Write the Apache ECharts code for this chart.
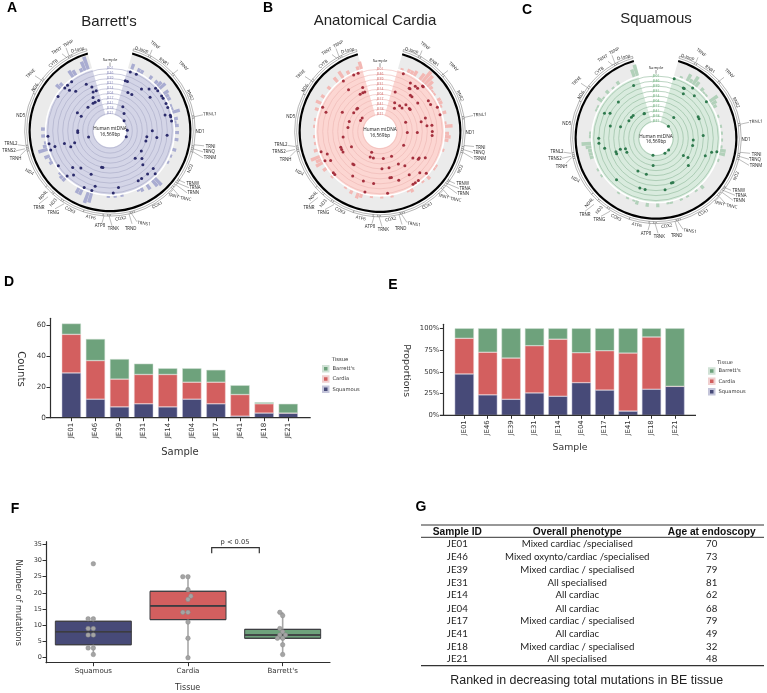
<!DOCTYPE html>
<html><head><meta charset="utf-8">
<style>html,body{margin:0;padding:0;background:#fff}#c{width:767px;height:693px}</style>
<script src="https://cdn.jsdelivr.net/npm/echarts@6/dist/echarts.min.js"></script>
</head><body><div id="c"></div>
<script>
const samples = ["JE01","JE46","JE39","JE31","JE14","JE04","JE17","JE41","JE18","JE21"];
const tissues = ["Squamous","Cardia","Barrett's"];

const countSquamous = [29,12,7,9,7,12,9,1,3,3];
const countCardia   = [25,25,18,19,21,11,14,14,6,0];
const countBarretts = [7,14,13,7,4,9,8,6,1,6];

const propSquamous = [47.5,23.5,18.4,25.7,21.9,37.5,29.0,4.8,30,33.3];
const propCardia   = [41,49,47.4,54.3,65.6,34.4,45.2,66.7,60,0];
const propBarretts = [11.5,27.5,34.2,20,12.5,28.1,25.8,28.5,10,66.7];

// box: low edge, low edge, median, high edge, high edge
const boxes = [[4,4,8,11.25,11.25],[11.75,11.75,16,20.5,20.5],[6,6,7,8.75,8.75]];
const whiskers = [[1,4,11.25,12],[0,11.75,20.5,25],[1,6,8.75,14]];
// swarm: [offset from category, mutations]
const swarmSquamous = [[0,29],[-0.055,12],[0,12],[-0.055,9],[0,9],[-0.055,7],[0,7],[-0.055,3],[0,3],[0,1]];
const swarmCardia = [[-0.055,25],[0,25],[0,21],[0.03,19],[0,18],[-0.055,14],[0,14],[0,11],[0,6],[0,0]];
const swarmBarretts = [[-0.03,14],[0,13],[-0.03,9],[0,8],[-0.03,7],[0.03,7],[-0.055,6],[0,6],[0,4],[0,1]];

// mtDNA annotation, bp
const genes = [["D-loop",1,576],["TRNF",577,647],["RNR1",648,1601],["TRNV",1602,1670],["RNR2",1671,3229],["TRNL1",3230,3304],["ND1",3307,4262],["TRNI",4263,4331],["TRNQ",4332,4400],["TRNM",4402,4469],["ND2",4470,5511],["TRNW",5512,5579],["TRNA",5587,5655],["TRNN",5657,5729],["TRNC",5761,5826],["TRNY",5827,5891],["COX1",5904,7445],["TRNS1",7446,7514],["TRND",7518,7585],["COX2",7586,8269],["TRNK",8295,8364],["ATP8",8366,8526],["ATP6",8527,9207],["COX3",9208,9990],["TRNG",9991,10058],["ND3",10059,10404],["TRNR",10405,10469],["ND4L",10470,10759],["ND4",10760,12137],["TRNH",12138,12206],["TRNS2",12207,12265],["TRNL2",12266,12336],["ND5",12337,14148],["ND6",14149,14673],["TRNE",14674,14742],["CYTB",14747,15887],["TRNT",15888,15953],["TRNP",15956,16023],["D-loop",16024,16569]];

// mutations: [clock angle in degrees, ring index]
const dotsA = [[19,0],[25,0],[17,2],[19.5,2],[37,2],[43,1],[47,0],[50,0],[25,4],[31,4],[50,2],[56,0],[58.5,0],[64,0],[68,0],[28,7],[39,8],[54.5,9],[74,1],[75.5,0],[77,0],[81,0],[90,4],[94.5,1],[88,9],[110,9],[99,5],[98,3],[106,5],[123,5],[137.5,5],[131,4],[136,3],[131,1],[133.5,0],[139,1],[146.5,1],[150.5,1],[171.5,1],[177,0],[193,5],[191,5],[203.5,3],[195,1],[197,0],[204.5,0],[225.5,2],[218,3],[219.5,1],[223.5,0],[236,0],[248,4],[251.5,5],[254.5,3],[254,1],[252,0],[258,0],[265,0],[254,8],[270,6],[267,6],[299,5],[297,6],[319,2],[303.5,0],[313.5,0],[315,1],[317,0],[322,0],[333,2],[337.5,3],[336.5,4],[341,4],[333,5],[339.5,6],[332.5,6],[328.5,6],[317,6]];
const dotsB = [[22,0],[32,1],[21,4],[34,2],[35,2],[38,1],[41,1],[43,0],[44,0],[40,3],[42.5,3],[53,3],[57.5,1],[62,1],[67,0],[74.5,0],[27,6],[32,7],[37.5,6],[43,6],[44,5],[52,5],[54,5],[76.5,4],[73.5,3],[83,3],[83,2],[90,2],[94.5,2],[91.5,5],[92,7],[70,7],[120,7],[155,7],[173,7],[194,7],[202,8],[201,7],[129,4],[124,3],[126,3],[120,2],[150.5,5],[144,4],[177,5],[166,5],[168,3],[166,3],[159,2],[146,2],[136,1],[132,0],[142,0],[145.5,0],[148,0],[173,0],[187,2],[194,0],[198.5,2],[220,4],[218,4],[211.5,2],[228.5,0],[226.5,0],[239.5,1],[251,0],[247,1],[242,0],[248,4],[245,4],[241,4],[242,6],[261.5,5],[277,6],[288,6],[293,0],[289.5,1],[297,4],[305.5,6],[316,6],[314,6],[307,8],[299.5,8],[324,0],[323,2],[335,0],[339.5,0],[338.5,3],[332,4],[339,4],[336,4]];
const dotsC = [[17,0],[28.5,1],[29.5,1],[31.5,2],[36,0],[42,1],[54,0],[63,3],[65.5,3],[40.5,7],[46,9],[86.5,3],[92.5,5],[101,5],[104,1],[102.5,0],[109.5,2],[122,6],[121,5],[130,4],[161,3],[159,3],[170,2],[192,2],[198,2],[195,5],[209,5],[186,7],[190,9],[149,9],[133,9],[223.5,1],[251,6],[244.5,6],[253,5],[251.5,4],[248.5,4],[259,2],[270,1],[265,1],[285,3],[288,5],[303,6],[310.5,6],[315,6],[335,7],[334,7],[298.5,2],[296,1],[314,2],[337,1]];

// coverage tick bars: [clock angle in degrees, count]
const barsA = [[20,3],[24,2],[27,2],[36,2],[43,2],[47,3],[50,4],[54,3],[58,2],[62,2],[66,1],[70,1],[74,4],[78,2],[82,1],[86,2],[90,2],[97,2],[105,2],[112,1],[118,1],[136,5],[140,4],[144,3],[152,2],[155,1],[170,1],[175,1],[180,1],[196,5],[200,6],[205,3],[208,3],[222,2],[226,2],[230,1],[240,2],[245,1],[248,3],[252,5],[256,2],[260,1],[265,2],[270,2],[310,3],[313,2],[325,4],[328,3],[335,2],[338,5],[341,7]];
const barsB = [[20,1],[24,2],[28,2],[32,3],[36,4],[39,7],[42,6],[45,4],[48,2],[52,1],[56,1],[60,2],[64,2],[68,1],[72,2],[82,1],[86,4],[90,2],[93,3],[97,2],[105,1],[120,1],[125,1],[132,2],[138,1],[150,2],[155,1],[168,1],[178,1],[188,1],[195,2],[200,3],[205,2],[212,1],[225,1],[235,2],[240,4],[243,3],[248,5],[252,2],[258,1],[265,1],[275,1],[280,1],[288,2],[295,3],[300,2],[310,2],[318,3],[325,4],[330,2],[340,2],[343,4]];
const barsC = [[22,1],[28,4],[31,2],[35,5],[38,3],[42,2],[46,1],[50,1],[54,5],[57,3],[60,2],[70,1],[80,1],[85,1],[90,1],[97,1],[101,3],[104,3],[110,1],[137,2],[143,1],[152,1],[158,1],[165,1],[170,1],[177,2],[188,2],[195,2],[198,1],[204,1],[215,1],[235,1],[240,1],[252,2],[255,2],[259,2],[262,3],[265,5],[270,1],[275,1],[295,1],[299,1],[303,3],[307,1],[312,2],[318,1],[325,2],[340,4],[343,6]];

const tableHead = ["Sample ID","Overall phenotype","Age at endoscopy"];
const tablePhenotype = ["Mixed cardiac /specialised","Mixed oxynto/cardiac /specialised","Mixed cardiac / specialised","All specialised","All cardiac","All cardiac","Mixed cardiac / specialised","All cardiac","Mixed cardiac / specialised","All specialised"];
const tableAge = [70,73,79,81,62,68,79,49,32,48];

/* ---------- layout & style ---------- */
const COL = {"Squamous":"#474a78","Cardia":"#d35f5f","Barrett's":"#6ea27c"};
const EDGE = {"Squamous":"#c4c5da","Cardia":"#f0cfcf","Barrett's":"#d0e1d5"};
const SANS = "DejaVu Sans", ARIAL = "Liberation Sans", SMALL = "Open Sans";
const AXC = "#2e2e2e";
const panels = [
 {c:[110,130.8],title:"Barrett's",tx:109,ty:22,fill:"#d4d5e7",ring:"#a8a9c6",bar:"#a9acd1",dot:"#2c2c6c",lab:"#6a6aaa",dots:dotsA,bars:barsA},
 {c:[380,131.5],title:"Anatomical Cardia",tx:375,ty:21,fill:"#fcd6d2",ring:"#ecb6b2",bar:"#f3b8b4",dot:"#a5303e",lab:"#c44444",dots:dotsB,bars:barsB},
 {c:[656,138.3],title:"Squamous",tx:656,ty:19,fill:"#d9ebde",ring:"#8fb89b",bar:"#b2d1ba",dot:"#2f7a4e",lab:"#3f9a50",dots:dotsC,bars:barsC}
];
// gene label placement relative to a circle's centre: name, dx, dy, rotation, leader x1,y1,x2,y2
const geneLabels = [
 ["D-loop",31.7,-81,15],["TRNF",45,-85.7,38,40,-76,42,-81],["RNR1",54,-69,35],["TRNV",73.3,-65,45,63,-57,68,-61],
 ["RNR2",80,-35.7,65],["TRNL1",100,-16.7,-3,84,-14,93,-16],["ND1",90,1.3,0],["TRNI",100.7,16,0,84,14,94,15],
 ["TRNQ",99,21,0,83,18,93,21],["TRNM",100,27,0,83,21,93,27],["ND2",80.3,37.7,-68],["TRNW",82.7,52.7,0,68,49,75,52],
 ["TRNA",85,57,0,67,52,79,57],["TRNN",83.3,62,0,66,54,77,62],["TRNC",75.7,68,10,63,58,70,66],["TRNY",63.3,65,12,63,59,60,62],
 ["COX1",47.3,74.3,-28],["TRNS1",34,92.7,8,21,82,27,91],["TRND",20.7,97.7,0,19,83,22,93],["COX2",10.7,87.7,-10],
 ["TRNK",3.3,98.3,0,-1,85,2,95],["ATP8",-10,95.3,0,-6,85,-8,92],["ATP6",-19.3,86.7,13],["COX3",-40,79.3,25],
 ["TRNG",-56.7,81.7,0,-46,73,-55,78],["ND3",-56.7,71.7,-52],["TRNR",-71,76.7,0,-62,66,-71,73],["ND4L",-66.7,64.3,-48],
 ["ND4",-80.7,41,30],["TRNH",-94.3,28.3,0,-84,19,-90,25],["TRNS2",-101,20,0,-85,18,-94,20],["TRNL2",-99,13.3,0,-85,15,-92,14],
 ["ND5",-89.3,-15,0],["ND6",-75,-43.3,-55],["TRNE",-79.3,-57.3,-45,-69,-51,-75,-55],["CYTB",-56.7,-67.3,-40],
 ["TRNT",-53.3,-80,-30,-43,-73,-48,-77],["TRNP",-41.7,-87.3,-30,-41,-75,-44,-83],["D-loop",-32.3,-81,-15]
];
const GAPBP = 16569*32/328;

const T = (x,y,text,size,o={}) => ({type:'text',x,y,rotation:-(o.rot||0)*Math.PI/180,silent:true,z:20,
  style:{text:String(text),fontSize:size,fontFamily:o.font||SANS,fontWeight:o.weight||'normal',fill:o.fill||'#222',align:o.align||'center',verticalAlign:'middle'}});
const L = (x1,y1,x2,y2,w=0.5,c='#444') => ({type:'line',silent:true,z:19,shape:{x1,y1,x2,y2},style:{stroke:c,lineWidth:w}});

const graphic = [];
[["A",12,8],["B",268,8],["C",527,10],["D",9,282],["E",393,285],["F",15,509],["G",421,507]].forEach(l=>graphic.push(T(l[1],l[2],l[0],14,{font:ARIAL,weight:'bold',fill:'#000'})));

const polar=[],angleAxis=[],radiusAxis=[],series=[];
const noLab = {label:{show:false},labelLine:{show:false},emphasis:{disabled:true},silent:true,avoidLabelOverlap:false,animation:false};
const ringPie = (p,r,z,data) => ({type:'pie',center:p.c,radius:r,startAngle:74,clockwise:true,z,data,...noLab});
const solid = (col) => [{value:328,itemStyle:{color:col}},{value:32,itemStyle:{color:'rgba(0,0,0,0)'}}];

panels.forEach(p=>{
  series.push(ringPie(p,[16.5,63.6],1,solid(p.fill)));
  series.push(ringPie(p,[65.2,79.5],1,solid('#ebebeb')));
  series.push(ringPie(p,[79.3,81.5],3,solid('#000')));
  const gd=[];
  genes.forEach((g,i)=>{
    gd.push({value:g[2]-g[1]+1,itemStyle:{color:'#fff',borderColor:'#444',borderWidth:0.4}});
    if(i<genes.length-1){const gap=genes[i+1][1]-g[2]-1; if(gap>0) gd.push({value:gap,itemStyle:{color:'rgba(0,0,0,0)'}});}
  });
  gd.push({value:GAPBP,itemStyle:{color:'rgba(0,0,0,0)'}});
  series.push(ringPie(p,[83.3,85.3],3,gd));

  const iRing=polar.length;
  polar.push({center:p.c,radius:[17.3,62.3]});
  angleAxis.push({polarIndex:iRing,type:'value',min:0,max:360,startAngle:90,show:false});
  radiusAxis.push({polarIndex:iRing,type:'value',min:0,max:9,interval:1,inverse:true,z:4,
    axisLine:{show:false},axisTick:{show:false},axisLabel:{show:false},splitLine:{show:true,lineStyle:{color:p.ring,width:0.6}}});
  series.push({type:'scatter',coordinateSystem:'polar',polarIndex:iRing,z:8,symbolSize:3,silent:true,animation:false,
    itemStyle:{color:p.dot,opacity:1},data:p.dots.map(d=>[d[1],d[0]])});
  series.push({type:'scatter',coordinateSystem:'polar',polarIndex:iRing,z:8,symbolSize:0,silent:true,animation:false,
    data:samples.map((s,i)=>({value:[i,0],name:s})),
    label:{show:true,position:'inside',formatter:o=>o.name,fontSize:3.4,fontFamily:SMALL,color:p.lab}});

  const iBar=polar.length;
  polar.push({center:p.c,radius:[65.2,78.5]});
  const binCount=120, binDeg=3, bins=new Array(binCount).fill(0), names=bins.map((_,i)=>String(i));
  p.bars.forEach(b=>{const k=Math.min(binCount-1,Math.floor(b[0]/binDeg)); bins[k]=Math.max(bins[k],b[1]);});
  angleAxis.push({polarIndex:iBar,type:'category',data:names,startAngle:90,show:false});
  radiusAxis.push({polarIndex:iBar,type:'value',min:0,max:7,show:false});
  series.push({type:'bar',coordinateSystem:'polar',polarIndex:iBar,z:4,silent:true,animation:false,barWidth:'92%',
    itemStyle:{color:p.bar},data:bins});

  const [cx,cy]=p.c;
  graphic.push(T(p.tx,p.ty,p.title,15,{font:ARIAL,fill:'#222'}));
  graphic.push(T(cx,cy-1.7,"Human mtDNA",4.7,{font:SMALL,fill:'#111'}));
  graphic.push(T(cx,cy+3.8,"16,569bp",4.7,{font:SMALL,fill:'#111'}));
  graphic.push(T(cx,cy-70.7,"Sample",4.2,{font:SMALL,fill:'#222'}));
  graphic.push(L(cx,cy-68.3,cx,cy-64.6,0.5,'#333'));
  geneLabels.forEach(g=>{
    graphic.push(T(cx+g[1],cy+g[2],g[0],4.4,{font:SMALL,fill:'#222',rot:g[3]}));
    if(g.length>4) graphic.push(L(cx+g[4],cy+g[5],cx+g[6],cy+g[7],0.4,'#555'));
  });
});

const tickStyle = {show:true,length:3.5,lineStyle:{color:AXC,width:1}};
const grid=[
 {left:59.3,top:318.3,width:241,height:99.4},
 {left:452.6,top:324.3,width:234,height:91},
 {left:46,top:541.7,width:284,height:121}
];
const catAxis=(g,fs)=>({type:'category',gridIndex:g,data:samples,axisLine:{show:false},axisTick:{...tickStyle,alignWithLabel:true},
  axisLabel:{rotate:90,margin:5,fontSize:fs,fontFamily:SANS,color:'#333',interval:0}});
const xAxis=[
 catAxis(0,7.1),catAxis(1,6.9),
 {type:'category',gridIndex:2,data:tissues,axisLine:{onZero:false,lineStyle:{color:AXC,width:1.2}},axisTick:{...tickStyle,alignWithLabel:true},
  axisLabel:{fontSize:7.1,margin:5,fontFamily:SANS,color:'#333',interval:0}},
 {type:'value',gridIndex:2,min:-0.5,max:2.5,show:false}
];
const valAxis=(g,max,min,ticks,fs,off,fmt)=>({type:'value',gridIndex:g,min,max,offset:off,splitLine:{show:false},
  axisLine:{show:true,onZero:false,lineStyle:{color:AXC,width:1.2}},axisTick:{...tickStyle,customValues:ticks},
  axisLabel:{customValues:ticks,fontSize:fs,margin:4,fontFamily:SANS,color:'#333',formatter:fmt||'{value}'}});
const yAxis=[
 valAxis(0,64.4,0,[0,20,40,60],7.3,9.3),
 valAxis(1,104.6,0,[0,25,50,75,100],6.8,9.3,'{value}%'),
 valAxis(2,35.8,-1.54,[0,5,10,15,20,25,30,35],6.5,0)
];
const stackBars=(g,stack,vals)=>tissues.map((t,i)=>({type:'bar',name:t,stack,xAxisIndex:g,yAxisIndex:g,barWidth:19.2,animation:false,silent:true,
  itemStyle:{color:COL[t],borderColor:EDGE[t],borderWidth:0.5},data:vals[i]}));
series.push(...stackBars(0,'d',[countSquamous,countCardia,countBarretts]));
series.push(...stackBars(1,'e',[propSquamous,propCardia,propBarretts]));

series.push({type:'boxplot',name:'mutations',xAxisIndex:2,yAxisIndex:2,boxWidth:[76,76],animation:false,silent:true,z:3,
  data:boxes.map((b,i)=>({value:b,itemStyle:{color:COL[tissues[i]],borderColor:'#3c3c40',borderWidth:1}}))});
boxes.forEach((b,i)=>series.push({type:'line',xAxisIndex:3,yAxisIndex:2,z:4,animation:false,silent:true,symbol:'none',
  lineStyle:{color:'#3c3c40',width:1.6},data:[[i-0.4,b[2]],[i+0.4,b[2]]]}));
whiskers.forEach((w,i)=>{
  [[w[0],w[1]],[w[2],w[3]]].forEach(seg=>series.push({type:'line',xAxisIndex:3,yAxisIndex:2,z:4,animation:false,silent:true,symbol:'none',
    lineStyle:{color:'#a8a8a8',width:1.6},data:[[i,seg[0]],[i,seg[1]]]}));
});
[swarmSquamous,swarmCardia,swarmBarretts].forEach((sw,i)=>series.push({type:'scatter',xAxisIndex:3,yAxisIndex:2,z:6,symbolSize:4.6,animation:false,silent:true,
  itemStyle:{color:'#a4a4a4',borderColor:'#808080',borderWidth:0.4,opacity:1},data:sw.map(d=>[i+d[0],d[1]])}));

graphic.push(L(46,417.7,310.7,417.7,1.2,AXC),L(440,415.3,696,415.3,1.2,AXC));
graphic.push(T(21,369,"Counts",10.2,{rot:90,fill:'#333'}),T(180,452,"Sample",10,{fill:'#333'}));
graphic.push(T(406.7,370.7,"Proportions",9.3,{rot:90,fill:'#333'}),T(570,447.3,"Sample",9.3,{fill:'#333'}));
graphic.push(T(340,360,"Tissue",5.3,{fill:'#333'}),T(725,362.3,"Tissue",5,{fill:'#333'}));
graphic.push(T(17.7,602.7,"Number of mutations",8.1,{rot:90,fill:'#333'}),T(187.7,688.3,"Tissue",8,{fill:'#333'}));
graphic.push(T(235,542.3,"p < 0.05",6.7,{fill:'#333'}));
graphic.push({type:'polyline',silent:true,z:19,shape:{points:[[211.7,553.3],[211.7,547.7],[259.3,547.7],[259.3,553.3]]},style:{stroke:'#333',lineWidth:1.2,fill:null}});

graphic.push(L(421,525,764,525,1.2,'#333'),L(421,537.3,764,537.3,1,'#333'),L(421,665.7,764,665.7,1.2,'#333'));
const colX=[457.3,577.3,711.7], rowY=[543.7,557.3,570,582.7,595,608.7,621,634,646.7,659.3];
tableHead.forEach((h,i)=>graphic.push(T(colX[i],531.7,h,10.2,{font:ARIAL,weight:'bold',fill:'#111'})));
samples.forEach((s,i)=>{
  graphic.push(T(colX[0],rowY[i],s,9.7,{font:'Lato',fill:'#222'}));
  graphic.push(T(colX[1],rowY[i],tablePhenotype[i],9.7,{font:'Lato',fill:'#222'}));
  graphic.push(T(colX[2],rowY[i],tableAge[i],9.7,{font:'Lato',fill:'#222'}));
});
graphic.push(T(586.7,681,"Ranked in decreasing total mutations in BE tissue",12.4,{font:ARIAL,fill:'#222'}));

const legendBase={orient:'vertical',itemWidth:5.5,itemHeight:5.5,itemGap:2.8,icon:'rect',selectedMode:false,padding:0,data:["Barrett's","Cardia","Squamous"],textStyle:{fontSize:5.2,fontFamily:SANS,color:'#333',padding:[0,0,0,-1]}};

const chart=echarts.init(document.getElementById('c'),null,{renderer:'canvas'});
chart.setOption({animation:false,backgroundColor:'#fff',
  legend:[{...legendBase,left:322,top:365},{...legendBase,left:708,top:367.3}],
  polar,angleAxis,radiusAxis,grid,xAxis,yAxis,series,graphic:{elements:graphic}});
</script></body></html>
